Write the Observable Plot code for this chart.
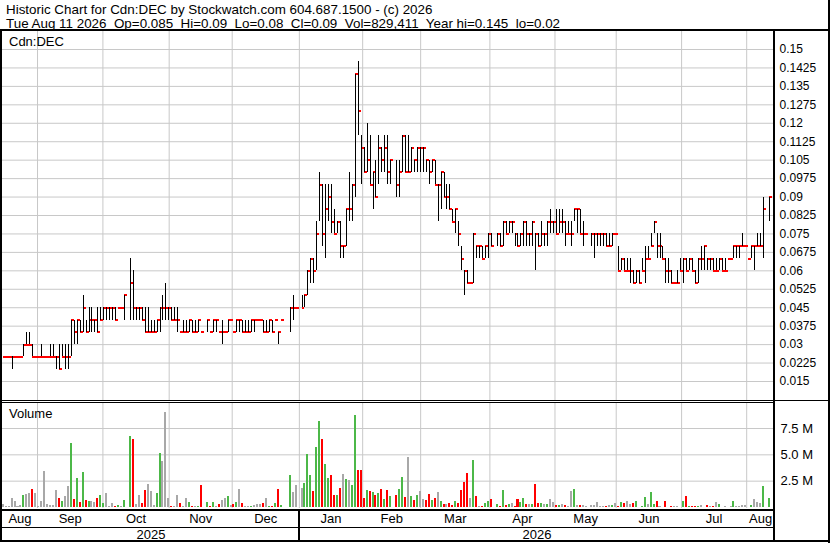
<!DOCTYPE html>
<html><head><meta charset="utf-8">
<script src="https://cdn.jsdelivr.net/npm/d3@7"></script>
<script src="https://cdn.jsdelivr.net/npm/@observablehq/plot@0.6"></script>
<style>
html,body{margin:0;padding:0;background:#fff;}
#wrap{position:relative;width:830px;height:543px;overflow:hidden;background:#fff;font-family:Arial,"Liberation Sans",sans-serif;color:#000;}
.t{position:absolute;white-space:pre;font-size:13px;line-height:13px;}
.ln{position:absolute;background:#000;}
.pl{position:absolute;left:0;}
</style></head>
<body><div id="wrap"></div>
<script>
// ---- data (prices in thousandths of a dollar, volume in millions) ----
const hiMils = [25,25,25,25,25,25,25,30,35,35,30,25,25,30,25,25,30,30,25,30,30,30,30,40,40,40,40,50,40,45,
45,40,45,45,45,45,45,45,45,45,45,50,null,65,60,45,45,45,45,45,40,40,40,45,50,55,45,45,45,45,
35,40,40,40,40,40,40,35,null,40,35,40,40,35,40,35,40,40,35,40,40,40,40,40,40,40,40,40,40,40,
40,40,40,35,40,null,null,45,50,45,null,50,50,60,65,65,80,100,95,95,95,95,85,80,80,70,85,100,95,140,
145,115,110,120,115,100,105,115,110,115,115,105,null,105,105,115,115,115,110,105,110,110,110,105,105,105,105,95,100,100,
95,95,85,85,80,70,60,60,55,75,70,70,70,70,75,75,null,75,75,80,80,80,80,75,75,75,80,80,75,80,
75,75,80,75,80,85,80,85,85,85,80,80,80,85,85,85,80,75,null,75,75,75,75,75,75,75,75,75,70,65,
65,65,65,60,60,60,65,70,70,75,80,75,75,70,65,65,60,55,60,65,65,65,65,65,60,65,70,70,65,65,
65,65,65,65,65,65,65,70,70,70,75,70,65,70,70,75,75,90,null,90];
const loMils = [25,25,25,20,25,25,25,25,30,30,25,25,25,25,25,25,25,25,20,20,25,20,20,25,30,30,35,35,35,35,
35,35,35,40,40,40,40,40,40,45,45,40,null,40,40,40,40,40,35,35,35,35,35,35,40,40,40,40,40,35,
35,35,35,35,35,35,35,35,null,35,35,35,35,35,30,35,35,40,35,35,35,35,35,35,35,35,40,40,35,35,
35,35,40,30,40,null,null,35,40,45,null,45,45,50,55,55,60,80,70,65,80,75,75,75,65,65,70,80,80,90,
115,95,100,100,95,85,90,95,100,100,95,95,null,90,90,100,100,100,100,100,100,100,100,100,95,100,95,80,85,90,
85,85,80,75,70,60,50,55,55,55,65,65,65,65,65,70,null,70,70,70,75,75,75,70,70,70,70,70,70,70,
60,70,70,70,70,75,75,75,75,75,70,75,70,80,75,75,70,75,null,70,65,70,70,70,70,70,70,75,60,60,
60,60,55,55,55,55,60,55,65,70,75,65,65,65,55,55,55,55,55,60,55,60,60,60,55,55,60,60,60,60,
60,60,60,60,60,65,65,65,65,65,70,70,65,65,60,70,70,65,null,80];
const closeMils = [25,25,25,25,25,25,25,30,30,30,25,25,25,25,25,25,25,25,25,20,25,25,25,40,35,40,35,45,35,40,
40,40,35,40,45,45,45,45,40,45,45,50,null,55,45,45,45,40,35,35,35,35,40,45,45,45,45,40,40,40,
35,35,35,40,35,35,40,35,null,40,35,40,40,35,35,35,40,40,35,40,40,35,35,35,40,40,40,40,35,35,
40,35,40,35,40,null,null,45,45,45,null,45,50,60,65,60,75,95,75,85,90,80,75,80,70,70,85,85,95,140,
125,110,100,105,95,100,90,110,105,110,100,105,null,95,100,115,100,100,110,105,110,110,110,105,100,105,95,95,100,90,
90,85,80,85,75,65,60,55,55,75,70,70,65,70,75,70,null,75,70,80,75,80,80,75,70,75,80,75,75,80,
75,70,75,75,80,80,80,75,80,80,75,75,75,85,85,75,75,75,null,75,75,75,75,75,70,70,75,75,60,65,
60,60,60,55,60,55,60,65,65,70,80,70,70,65,60,60,55,55,55,60,65,60,65,60,55,65,65,70,65,65,
60,60,65,60,60,65,65,70,70,70,70,70,65,70,70,70,70,85,null,90];
const volM = [.32,.05,.05,.87,.58,.1,.19,1.15,1.25,1.35,1.73,1.35,.05,.58,3.46,.29,.22,.22,1.63,.87,.58,1.06,2.02,6.06,.77,2.79,.48,3.37,.67,.58,
.58,.48,.87,1.15,.38,1.35,.1,.38,.1,.19,.1,.67,null,6.7,6.44,.29,1.15,.38,1.63,2.21,1.54,.19,1.35,5.1,4.33,9.04,.87,.1,.05,1.15,
.38,.05,.87,.48,.1,.05,.1,2.1,null,.48,.05,.48,.05,.29,.67,.87,1.06,.19,.29,.48,1.73,.38,.1,.05,.05,.19,.29,.29,.38,.87,
.05,.05,.38,1.73,.19,null,null,3.08,1.44,2.1,null,1.83,2.3,5.0,3.08,1.54,5.67,8.17,6.44,4.04,2.79,3.08,1.15,1.15,1.83,3.17,2.69,2.6,2.1,8.75,
3.56,3.56,.87,1.63,1.54,1.44,1.15,1.35,1.73,.77,1.63,1.06,null,1.15,1.73,2.88,.96,4.71,1.06,.67,1.15,1.54,.77,.67,1.25,.67,.87,1.44,.58,.29,
.29,.38,.19,.58,.38,1.63,2.4,3.27,.87,4.42,1.06,.1,.05,.38,.58,.77,null,.29,.1,1.63,.19,.29,.38,.1,.77,.48,.87,.29,.29,.29,
2.21,.38,.38,.29,.29,.77,.48,.19,.19,.29,.19,.1,1.54,1.73,.19,.19,.19,.1,null,.19,.19,.48,.1,.05,.05,.19,.19,.38,.1,.48,
.38,.58,.29,.38,.58,.02,.05,.96,.29,1.44,.29,.58,.1,.02,.58,.02,.1,.1,.05,.02,.58,1.06,.1,.05,.1,.05,.19,.02,.19,.05,
.05,.48,.29,.02,.05,.02,.05,.58,.1,.1,.19,.19,.02,.19,.77,.48,.38,2.02,null,.83];

const priceTicks = [0.015,0.0225,0.03,0.0375,0.045,0.0525,0.06,0.0675,0.075,0.0825,0.09,0.0975,0.105,0.1125,0.12,0.1275,0.135,0.1425,0.15];
const volTicks = [2.5, 5, 7.5];
const volTickLabels = ["2.5 M", "5.0 M", "7.5 M"];
const monthLabels = ["Aug","Sep","Oct","Nov","Dec","Jan","Feb","Mar","Apr","May","Jun","Jul","Aug"];
// month boundaries (Sep ... Aug), in bar-index units
const monthGrid = [11.6,33.7,56.1,77.4,100.1,121.5,141.1,164.5,186.5,207.2,229.3,251.3];
const yearLabels = ["2025","2026"];
const yearStartGrid = 4; // position in monthGrid where 2026 starts (Jan)
const xDomain = [-0.24, 260.7];

const headLine1 = "Historic Chart for Cdn:DEC by Stockwatch.com 604.687.1500 - (c) 2026";
const headLine2 = "Tue Aug 11 2026  Op=0.085  Hi=0.09  Lo=0.08  Cl=0.09  Vol=829,411  Year hi=0.145  lo=0.02";

// ---- build rows ----
const bars = [];
let prevC = null;
closeMils.forEach((c, i) => {
  if (c == null) return;
  const d = {i, h: hiMils[i] / 1000, l: loMils[i] / 1000, c: c / 1000, v: volM[i] || 0};
  d.dir = prevC == null ? 0 : Math.sign(c - prevC);
  prevC = c;
  bars.push(d);
});
const dirColor = d => d.dir > 0 ? "#4cb848" : d.dir < 0 ? "#ff0000" : "#a8a8a8";

const bounds = [xDomain[0], ...monthGrid, xDomain[1]];
const monthCenters = monthLabels.map((label, k) => ({label, x: (bounds[k] + bounds[k + 1]) / 2}));
const yb = [xDomain[0], monthGrid[yearStartGrid], xDomain[1]];
const yearCenters = yearLabels.map((label, k) => ({label, x: (yb[k] + yb[k + 1]) / 2}));

const baseStyle = {background: "transparent", fontFamily: "Arial, 'Liberation Sans', sans-serif", color: "#000", overflow: "visible"};
const grid = "#c8c8c8";

const pricePlot = Plot.plot({
  width: 830, height: 370, marginLeft: 2, marginRight: 56, marginTop: 0, marginBottom: 0,
  x: {domain: xDomain, axis: null},
  y: {domain: [0.015, 0.15], range: [351, 19], axis: null},
  style: {...baseStyle, fontSize: "12px"},
  marks: [
    Plot.gridY(priceTicks, {stroke: grid, strokeOpacity: 1}),
    Plot.gridX(monthGrid, {stroke: grid, strokeOpacity: 1}),
    Plot.ruleY(bars, {y: "c", x1: "i", x2: d => d.i + 1, stroke: "#ff0000", strokeWidth: 2, shapeRendering: "crispEdges"}),
    Plot.ruleX(bars.filter(d => d.h > d.l), {x: "i", y1: "l", y2: "h", stroke: "#000", strokeWidth: 1, shapeRendering: "crispEdges"}),
    Plot.axisY(priceTicks, {anchor: "right", label: null, tickSize: 0, tickPadding: 5, tickFormat: d => String(d), fontSize: 12})
  ]
});

const volPlot = Plot.plot({
  width: 830, height: 140, marginLeft: 2, marginRight: 56, marginTop: 0, marginBottom: 35,
  x: {domain: xDomain, axis: null},
  y: {domain: [0, 7.5], range: [104, 25], axis: null},
  color: {type: "identity"},
  style: {...baseStyle, fontSize: "13px"},
  marks: [
    Plot.gridY(volTicks, {stroke: grid, strokeOpacity: 1}),
    Plot.gridX(monthGrid, {stroke: grid, strokeOpacity: 1}),
    Plot.rect(bars.filter(d => d.v > 0), {x1: d => d.i - 0.34, x2: d => d.i + 0.34, y1: 0, y2: "v", fill: dirColor, shapeRendering: "crispEdges"}),
    Plot.axisY(volTicks, {anchor: "right", label: null, tickSize: 0, tickPadding: 6, tickFormat: d => volTickLabels[volTicks.indexOf(d)], fontSize: 13}),
    Plot.text(monthCenters, {x: "x", text: "label", frameAnchor: "bottom", lineAnchor: "top", dy: 5, fontSize: 13}),
    Plot.text(yearCenters, {x: "x", text: "label", frameAnchor: "bottom", lineAnchor: "top", dy: 21, fontSize: 13})
  ]
});

const wrap = document.getElementById("wrap");
function add(el, top) { const d = document.createElement("div"); d.className = "pl"; d.style.top = top + "px"; d.appendChild(el); wrap.appendChild(d); }
add(pricePlot, 30);
add(volPlot, 403);

function text(s, left, top, size) { const d = document.createElement("div"); d.className = "t"; d.textContent = s; d.style.left = left + "px"; d.style.top = top + "px"; if (size) { d.style.fontSize = size + "px"; d.style.lineHeight = size + "px"; } wrap.appendChild(d); }
text(headLine1, 6, 2.5, 13.4);
text(headLine2, 6, 16.5, 13.4);
text("Cdn:DEC", 9, 35);
text("Volume", 9, 407);

function line(l, t, w, h) { const d = document.createElement("div"); d.className = "ln"; Object.assign(d.style, {left: l + "px", top: t + "px", width: w + "px", height: h + "px"}); wrap.appendChild(d); }
const xJan = volPlot.scale("x").apply(monthGrid[yearStartGrid]);
line(0, 29, 830, 2);      // top of chart box
line(0, 29, 2, 513);      // left edge
line(828, 0, 2, 543);     // right edge
line(773, 29, 2, 513);    // chart / axis divider
line(0, 400, 830, 1);     // price / volume double line
line(0, 402, 775, 1);
line(0, 509, 775, 2);     // below volume
line(0, 527, 775, 1);     // months / years
line(0, 540, 830, 2);     // bottom
line(Math.round(xJan) - 1, 509, 2, 32); // year divider
</script></body></html>
